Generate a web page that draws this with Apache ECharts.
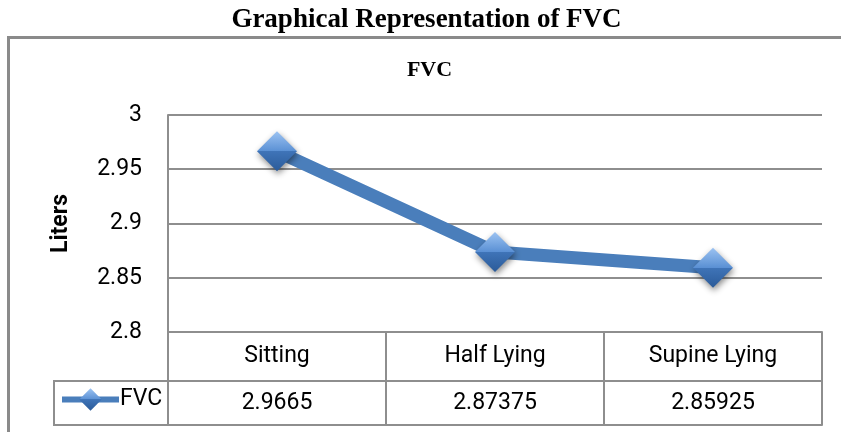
<!DOCTYPE html>
<html>
<head>
<meta charset="utf-8">
<script src="https://cdn.jsdelivr.net/npm/echarts@6/dist/echarts.min.js"></script>
<style>
html,body{margin:0;padding:0;background:#fff;}
#chart{width:841px;height:432px;}
</style>
</head>
<body>
<div id="chart"></div>
<script>
var categories = ['Sitting', 'Half Lying', 'Supine Lying'];
var fvcValues = [2.9665, 2.87375, 2.85925];
var fvcLabels = ['2.9665', '2.87375', '2.85925'];
var seriesName = 'FVC';
var yMin = 2.8, yMax = 3, yInterval = 0.05;

var gridColor = '#8e8e8e';
var font = 'Roboto';
var chart = echarts.init(document.getElementById('chart'), null, {renderer: 'canvas'});

var diamondFill = new echarts.graphic.LinearGradient(0, 0, 0, 1, [
  {offset: 0, color: '#9cc3f2'},
  {offset: 0.5, color: '#5a90d4'},
  {offset: 0.5, color: '#3f74b8'},
  {offset: 1, color: '#2b5b99'}
]);

var option = {
  animation: false,
  backgroundColor: '#fff',
  grid: {left: 168, right: 19, top: 115, bottom: 100, containLabel: false},
  graphic: [
    {type: 'rect', shape: {x: 8.5, y: 37.5, width: 900, height: 500}, style: {fill: 'none', stroke: '#8a8a8a', lineWidth: 3}, z: 0},
    {type: 'text', style: {text: 'Graphical Representation of FVC', x: 426.5, y: 20, align: 'center', verticalAlign: 'middle', font: 'bold 27px "Liberation Serif"', fill: '#000'}},
    {type: 'text', style: {text: 'FVC', x: 429.5, y: 70, align: 'center', verticalAlign: 'middle', font: 'bold 22px "Liberation Serif"', fill: '#000'}},
    {type: 'rect', shape: {x: 54, y: 381, width: 114, height: 44}, style: {fill: 'none', stroke: gridColor, lineWidth: 2}}
  ],
  legend: {
    data: [seriesName],
    left: 59, top: 388,
    itemWidth: 57, itemHeight: 28,
    padding: 0,
    lineStyle: {width: 6, color: '#4a7ebb'},
    textStyle: {fontFamily: font, fontSize: 23, color: '#000', padding: [0, 0, 0, -4]}
  },
  xAxis: [
    {
      type: 'category', data: categories, position: 'bottom', boundaryGap: true,
      axisLine: {show: true, lineStyle: {color: gridColor, width: 2}},
      axisTick: {show: true, alignWithLabel: false, interval: 0, length: 93, lineStyle: {color: gridColor, width: 2}},
      axisLabel: {margin: 13, fontFamily: font, fontSize: 23, color: '#000', interval: 0},
      splitLine: {show: false}
    },
    {
      type: 'category', data: categories, position: 'bottom', offset: 49, boundaryGap: true,
      axisLine: {show: true, lineStyle: {color: gridColor, width: 2}},
      axisTick: {show: false},
      axisLabel: {margin: 11, fontFamily: font, fontSize: 23, color: '#000', interval: 0,
        formatter: function (v, i) { return fvcLabels[i]; }},
      splitLine: {show: false}
    },
    {
      type: 'category', data: categories, position: 'bottom', offset: 93, boundaryGap: true,
      axisLine: {show: true, lineStyle: {color: gridColor, width: 2}},
      axisTick: {show: false}, axisLabel: {show: false}, splitLine: {show: false}
    }
  ],
  yAxis: {
    type: 'value', min: yMin, max: yMax, interval: yInterval,
    name: 'Liters', nameLocation: 'middle', nameGap: 95, nameRotate: 90,
    nameTextStyle: {fontFamily: font, fontSize: 23, fontWeight: 'bold', color: '#000'},
    axisLine: {show: true, lineStyle: {color: gridColor, width: 2}},
    axisTick: {show: false},
    axisLabel: {margin: 26, fontFamily: font, fontSize: 23, color: '#000'},
    splitLine: {show: true, lineStyle: {color: gridColor, width: 2}}
  },
  series: [{
    name: seriesName, type: 'line', data: fvcValues, xAxisIndex: 0,
    symbol: 'diamond', symbolSize: 40,
    lineStyle: {color: '#4a7ebb', width: 13},
    itemStyle: {color: diamondFill, shadowBlur: 6, shadowColor: 'rgba(0,0,0,0.45)', shadowOffsetX: 1, shadowOffsetY: 3},
    emphasis: {disabled: true},
    z: 3
  }]
};
chart.setOption(option);
</script>
</body>
</html>
